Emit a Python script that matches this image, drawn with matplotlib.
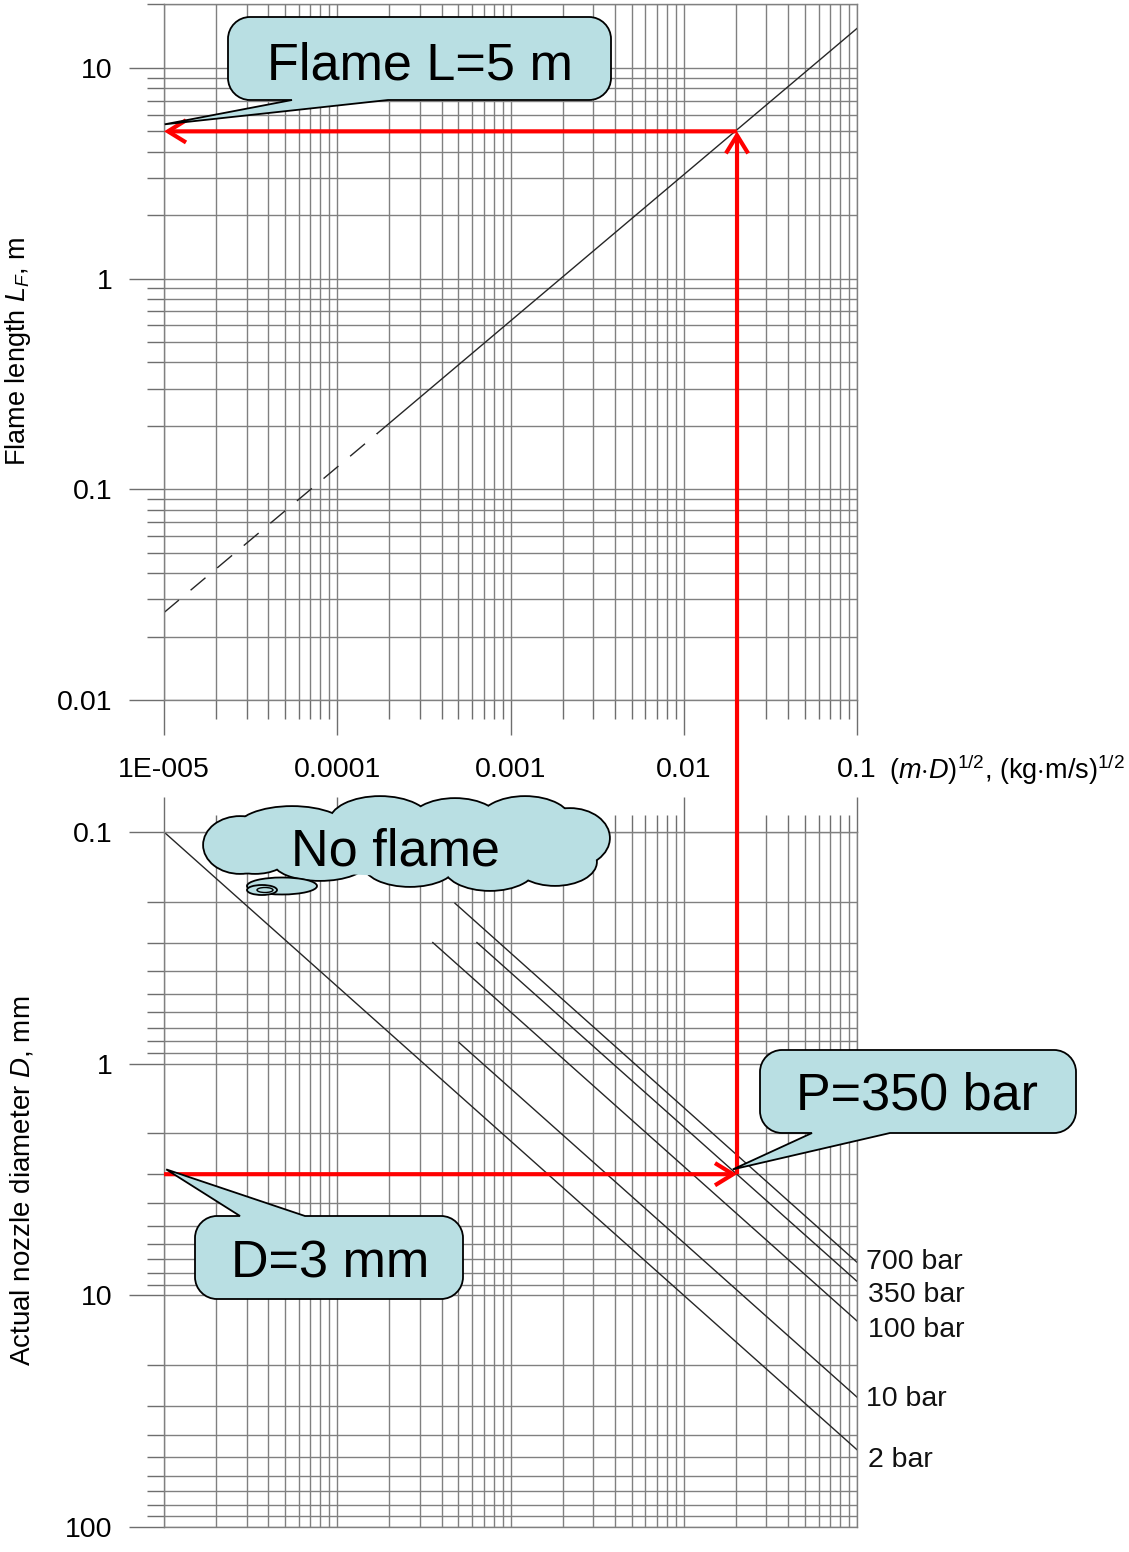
import numpy as np
import matplotlib
matplotlib.use("Agg")
import matplotlib.pyplot as plt
from matplotlib.path import Path
from matplotlib.patches import PathPatch, Ellipse, FancyArrowPatch
from matplotlib.ticker import FixedLocator, FixedFormatter, LogLocator, NullFormatter

plt.rcParams['font.family'] = ['Liberation Sans', 'DejaVu Sans']
plt.rcParams['mathtext.fontset'] = 'custom'
plt.rcParams['mathtext.rm'] = 'Liberation Sans'
plt.rcParams['mathtext.it'] = 'Liberation Sans:italic'
plt.rcParams['mathtext.bf'] = 'Liberation Sans:bold'

# ---------------- data ----------------
x_ticks = [1e-5, 1e-4, 1e-3, 1e-2, 1e-1]
x_ticklabels = ["1E-005", "0.0001", "0.001", "0.01", "0.1"]
L_ticks = [0.01, 0.1, 1, 10]
L_ticklabels = ["0.01", "0.1", "1", "10"]
D_ticks = [0.1, 1, 10, 100]
D_ticklabels = ["0.1", "1", "10", "100"]

flame_dashed_x = [1e-5, 1.7e-4]
flame_dashed_L = [0.026, 0.184]
flame_solid_x = [1.7e-4, 0.1]
flame_solid_L = [0.184, 15.4]

pressure_labels = ["700 bar", "350 bar", "100 bar", "10 bar", "2 bar"]
line_x_start = [4.78e-4, 6.4e-4, 3.56e-4, 5.04e-4, 1e-5]
line_D_start = [0.203, 0.30, 0.30, 0.81, 0.1]
line_x_end = [0.1, 0.1, 0.1, 0.1, 0.1]
line_D_end = [7.2, 8.7, 12.9, 27.5, 46.4]

example_x = 0.0203   # (m D)^1/2 for D=3 mm at 350 bar
example_D = 3.0      # mm
example_L = 5.0      # m

# ---------------- layout ----------------
W, H = 1129, 1552
fig = plt.figure(figsize=(W / 100, H / 100), dpi=100)
fig.patch.set_facecolor('white')


def px_rect(l, t, r, b):
    return [l / W, 1 - b / H, (r - l) / W, (b - t) / H]


ax1 = fig.add_axes(px_rect(164, 4.5, 857, 700))
ax2 = fig.add_axes(px_rect(164, 832, 857, 1527))

GRID = '#808080'
TICK = '#6e6e6e'

for ax in (ax1, ax2):
    ax.set_xscale('log')
    ax.set_yscale('log')
    ax.set_xlim(1e-5, 0.1)
    ax.set_axisbelow(True)
    ax.grid(True, which='both', color=GRID, lw=1.0)
    for s in ax.spines.values():
        s.set_color(GRID)
        s.set_linewidth(1.0)
    ax.xaxis.set_major_locator(FixedLocator(x_ticks))
    ax.xaxis.set_minor_locator(LogLocator(base=10, subs=np.arange(2, 10)))
    ax.yaxis.set_minor_locator(LogLocator(base=10, subs=np.arange(2, 10)))
    ax.xaxis.set_minor_formatter(NullFormatter())
    ax.yaxis.set_minor_formatter(NullFormatter())

ax1.set_ylim(0.01, 20)
ax2.set_ylim(100, 0.1)

# top panel ticks
ax1.yaxis.set_major_locator(FixedLocator(L_ticks))
ax1.yaxis.set_major_formatter(FixedFormatter(L_ticklabels))
ax1.xaxis.set_major_formatter(FixedFormatter(x_ticklabels))
ax1.tick_params(axis='x', which='major', direction='out', length=25, width=1.0,
                color=TICK, labelsize=20.5, pad=16)
ax1.tick_params(axis='x', which='minor', direction='out', length=14, width=1.0, color=TICK)
ax1.tick_params(axis='y', which='major', direction='out', length=25, width=1.0,
                color=TICK, labelsize=20.5, pad=12)
ax1.tick_params(axis='y', which='minor', direction='out', length=12, width=1.0, color=TICK)

# bottom panel ticks
ax2.yaxis.set_major_locator(FixedLocator(D_ticks))
ax2.yaxis.set_major_formatter(FixedFormatter(D_ticklabels))
ax2.xaxis.set_ticks_position('top')
ax2.tick_params(axis='x', which='both', labeltop=False, labelbottom=False)
ax2.tick_params(axis='x', which='major', direction='out', length=25, width=1.0, color=TICK)
ax2.tick_params(axis='x', which='minor', direction='out', length=12, width=1.0, color=TICK)
ax2.tick_params(axis='y', which='major', direction='out', length=25, width=1.0,
                color=TICK, labelsize=20.5, pad=12)
ax2.tick_params(axis='y', which='minor', direction='out', length=12, width=1.0, color=TICK)

# ---------------- data lines ----------------
LC = '#262626'
ax1.plot(flame_dashed_x, flame_dashed_L, color=LC, lw=1.0, ls=(0, (14, 11)))
ax1.plot(flame_solid_x, flame_solid_L, color=LC, lw=1.0)

label_offsets_px = [(9, 0), (11, -14), (11, -9), (9, -2), (11, -10)]
for lab, xs, ds, xe, de, off in zip(pressure_labels, line_x_start, line_D_start,
                                    line_x_end, line_D_end, label_offsets_px):
    ax2.plot([xs, xe], [ds, de], color=LC, lw=1.0)
    ax2.annotate(lab, xy=(xe, de), xytext=(off[0] * 0.72, off[1] * 0.72),
                 textcoords='offset points', ha='left', va='center', fontsize=20.5,
                 annotation_clip=False, color='#111111')

# axis labels
fig.text(18 / W, 1 - 351 / H, r"Flame length $L_F$, m", rotation=90,
         ha='center', va='center', fontsize=19.5)
fig.text(22 / W, 1 - 1181 / H, r"Actual nozzle diameter $D$, mm", rotation=90,
         ha='center', va='center', fontsize=20)
fig.text(889 / W, 1 - 770 / H, r"$(m{\cdot}D)^{1/2}$, (kg$\cdot$m/s)$^{1/2}$",
         ha='left', va='center', fontsize=19.5)

# ---------------- overlay (annotations in pixel coords) ----------------
ov = fig.add_axes([0, 0, 1, 1], zorder=10)
ov.set_xlim(0, W)
ov.set_ylim(H, 0)
ov.axis('off')
ov.patch.set_visible(False)


def to_px(ax, x, y):
    d = ax.transData.transform((x, y))
    return tuple(ov.transData.inverted().transform(d))


# red arrows
RED = '#ff0000'
p_bl = to_px(ax2, 1e-5, example_D)
p_br = to_px(ax2, example_x, example_D)
p_tr = to_px(ax1, example_x, example_L)
p_tl = to_px(ax1, 1e-5, example_L)
astyle = '->,head_length=0.65,head_width=0.4'
for a, b in ((p_bl, p_br), (p_br, p_tr), (p_tr, p_tl)):
    ov.add_patch(FancyArrowPatch(a, b, arrowstyle=astyle, mutation_scale=20,
                                 color=RED, lw=3, shrinkA=0, shrinkB=0,
                                 joinstyle='miter', capstyle='butt', zorder=2))

FILL = '#b9dfe3'
K = 0.5523


def callout(x0, y0, x1, y1, r, side, b1, b2, tip):
    verts, codes = [], []

    def mv(p):
        verts.append(p); codes.append(Path.MOVETO)

    def ln(p):
        verts.append(p); codes.append(Path.LINETO)

    def cv(c1, c2, p):
        verts.extend([c1, c2, p]); codes.extend([Path.CURVE4] * 3)

    mv((x0 + r, y0))
    if side == 'top':
        ln((b1, y0)); ln(tip); ln((b2, y0))
    ln((x1 - r, y0))
    cv((x1 - r + K * r, y0), (x1, y0 + r - K * r), (x1, y0 + r))
    ln((x1, y1 - r))
    cv((x1, y1 - r + K * r), (x1 - r + K * r, y1), (x1 - r, y1))
    if side == 'bottom':
        ln((b2, y1)); ln(tip); ln((b1, y1))
    ln((x0 + r, y1))
    cv((x0 + r - K * r, y1), (x0, y1 - r + K * r), (x0, y1 - r))
    ln((x0, y0 + r))
    cv((x0, y0 + r - K * r), (x0 + r - K * r, y0), (x0 + r, y0))
    verts.append((x0 + r, y0)); codes.append(Path.CLOSEPOLY)
    ov.add_patch(PathPatch(Path(verts, codes), fc=FILL, ec='black', lw=1.3,
                           joinstyle='miter', zorder=5))


callout(228, 17, 611, 100, 22, 'bottom', 292, 388, to_px(ax1, 1.01e-5, 5.4))
ov.text(420, 66, "Flame L=5 m", ha='center', va='center', fontsize=37.5, zorder=6)

callout(760, 1050, 1076, 1133, 22, 'bottom', 812, 890, to_px(ax2, 0.0192, 2.86))
ov.text(917, 1096, "P=350 bar", ha='center', va='center', fontsize=37.5, zorder=6)

callout(195, 1216, 463, 1299, 22, 'top', 240, 305, to_px(ax2, 1.03e-5, 2.86))
ov.text(330, 1264, "D=3 mm", ha='center', va='center', fontsize=37.5, zorder=6)

# cloud ("No flame")
bumps = [(240, 845, 72, 56), (292, 830, 112, 46), (380, 822, 100, 50),
         (455, 824, 92, 50), (525, 822, 92, 50), (570, 838, 78, 58),
         (555, 862, 82, 46), (490, 866, 92, 48), (410, 864, 92, 44),
         (320, 862, 92, 36), (255, 858, 62, 30)]
for cx, cy, w, h in bumps:
    ov.add_patch(Ellipse((cx, cy), w, h, fc=FILL, ec='black', lw=2.6, zorder=5))
for cx, cy, w, h in bumps:
    ov.add_patch(Ellipse((cx, cy), w, h, fc=FILL, ec='none', zorder=5.1))
ov.add_patch(Ellipse((405, 845), 330, 62, fc=FILL, ec='none', zorder=5.2))
ov.add_patch(Ellipse((282, 886), 70, 17, fc=FILL, ec='black', lw=1.3, zorder=5.3))
ov.add_patch(Ellipse((262, 890), 30, 10, fc=FILL, ec='black', lw=1.3, zorder=5.4))
ov.add_patch(Ellipse((265, 890), 16, 5, fc=FILL, ec='black', lw=1.0, zorder=5.5))
ov.text(395, 852, "No flame", ha='center', va='center', fontsize=37.5, zorder=6)

fig.savefig('out.png', dpi=100, facecolor='white')
